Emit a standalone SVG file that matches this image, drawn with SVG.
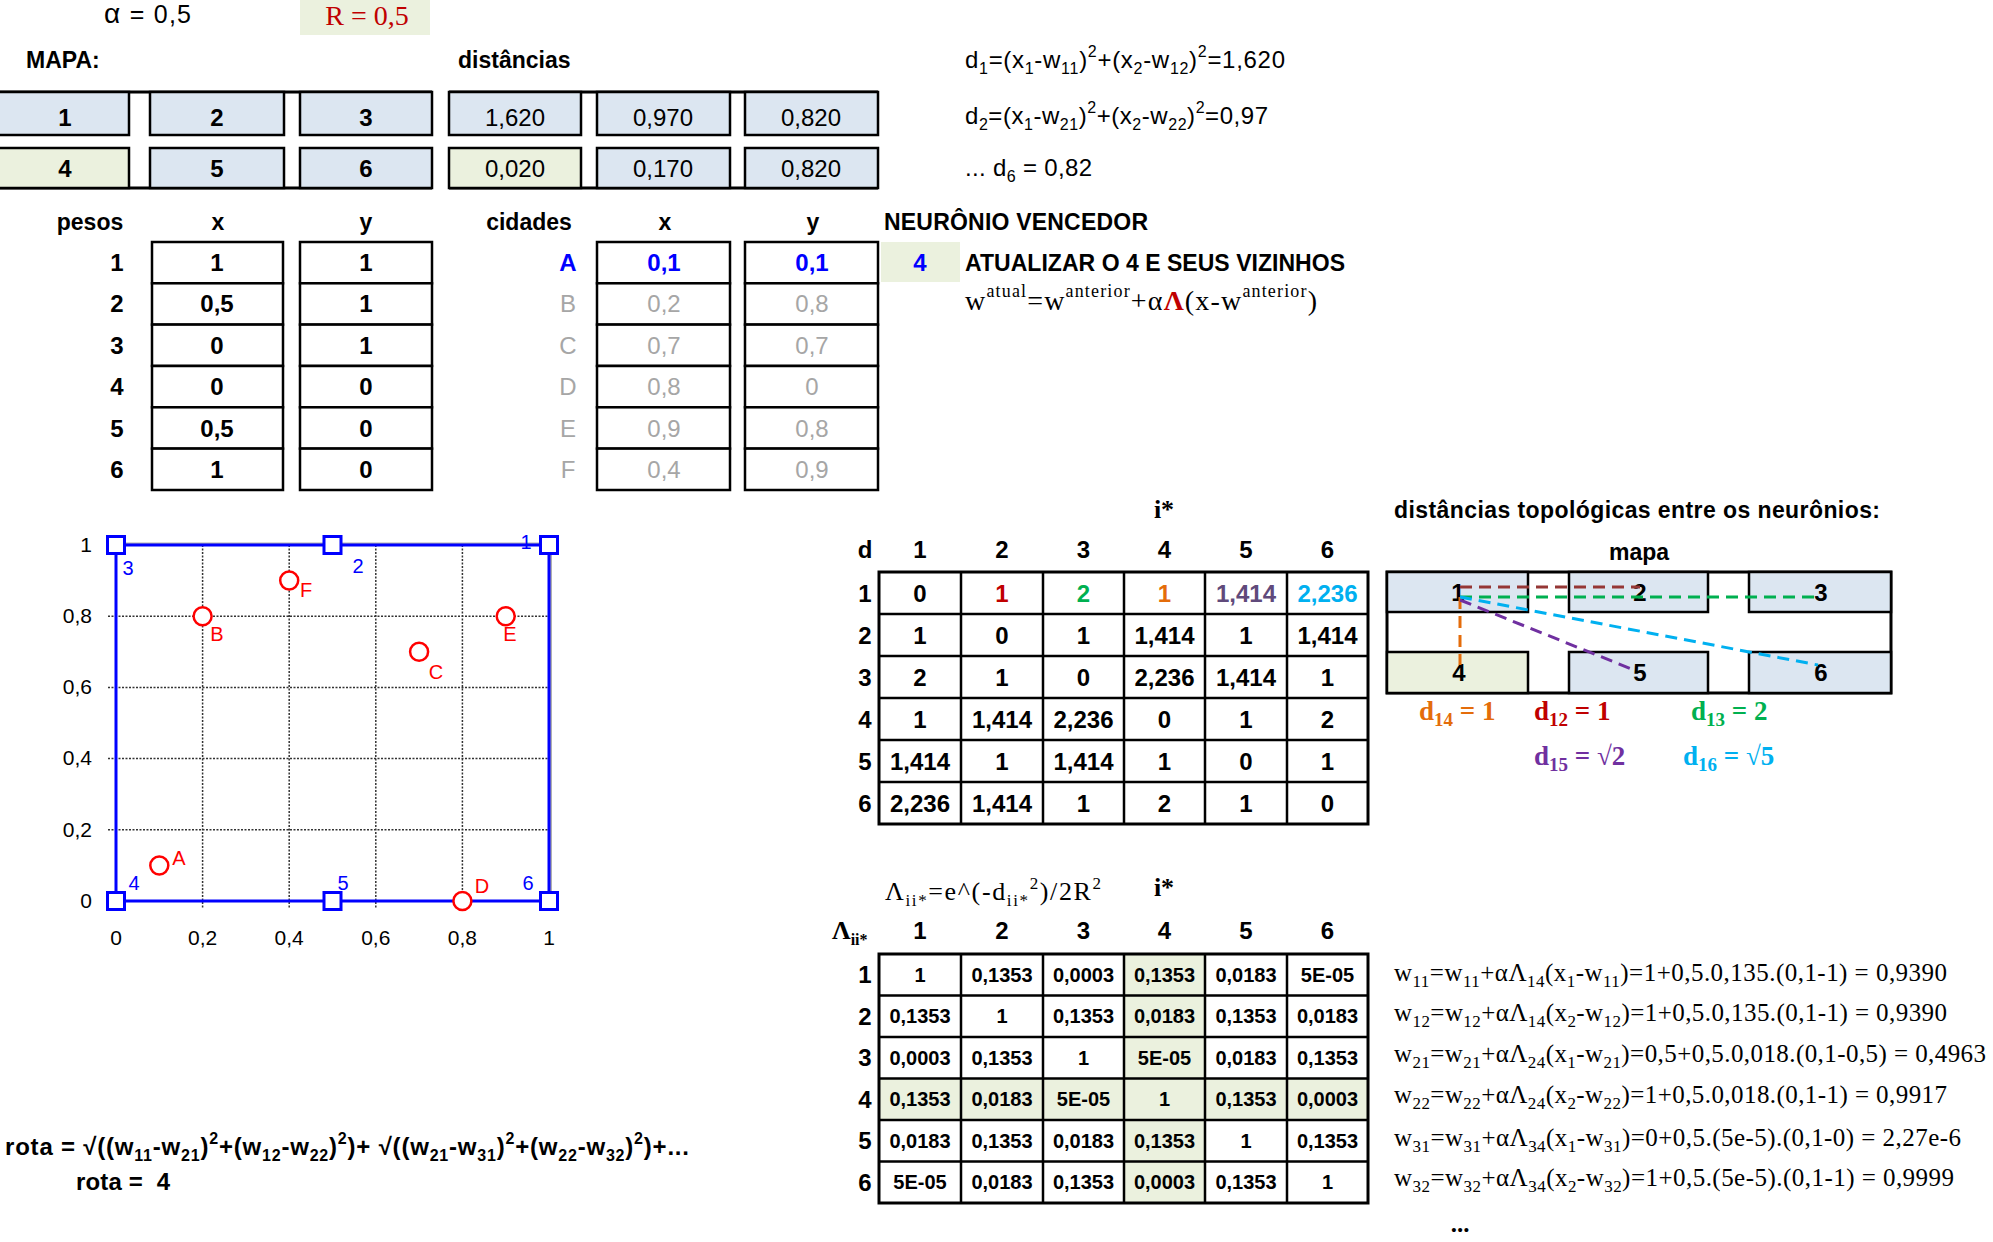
<svg xmlns="http://www.w3.org/2000/svg" width="1993" height="1242" viewBox="0 0 1993 1242">
<style>
text{font-family:"Liberation Sans",Arial,sans-serif;fill:#000}
.b{font-weight:bold}
.sf{font-family:"Liberation Serif","Times New Roman",serif}
.m{text-anchor:middle}
.e{text-anchor:end}
.f24{font-size:24px}
.f23{font-size:23px}
.f20{font-size:20px}
.f21{font-size:21px}
.sm{font-size:16px}
.cb{fill:#DCE6F1;stroke:#000;stroke-width:2.5}
.cg{fill:#EBF1DE;stroke:#000;stroke-width:2.5}
.cw{fill:#fff;stroke:#000;stroke-width:2.5}
.gray{fill:#A6A6A6}
.blue{fill:#0000FF}
.grid{stroke:#333;stroke-width:1.5;stroke-dasharray:2 1.5;fill:none}
.dash{fill:none;stroke-width:3;stroke-dasharray:12 7}
.tl{fill:none;stroke:#000;stroke-width:2.5}
</style>
<rect width="1993" height="1242" fill="#fff"/>

<g id="params">
<text x="104" y="23" style="font-size:25px" textLength="87" lengthAdjust="spacing"><tspan style="font-size:28px">α</tspan> = 0,5</text>
<rect x="300" y="0" width="130" height="35" fill="#EBF1DE"/>
<text x="367" y="25" class="sf m" style="font-size:28px;fill:#C00000">R = 0,5</text>
</g>

<g id="mapa" class="b f24">
<text x="26" y="68" class="b f23">MAPA:</text>
<line x1="0" y1="92" x2="432" y2="92" stroke="#000" stroke-width="3"/>
<line x1="0" y1="188" x2="432" y2="188" stroke="#000" stroke-width="3"/>
<rect x="-2" y="92" width="131" height="43" class="cb"/>
<rect x="150" y="92" width="134" height="43" class="cb"/>
<rect x="300" y="92" width="132" height="43" class="cb"/>
<rect x="-2" y="148" width="131" height="40" class="cg"/>
<rect x="150" y="148" width="134" height="40" class="cb"/>
<rect x="300" y="148" width="132" height="40" class="cb"/>
<text x="65" y="126" class="m b f24">1</text>
<text x="217" y="126" class="m b f24">2</text>
<text x="366" y="126" class="m b f24">3</text>
<text x="65" y="177" class="m b f24">4</text>
<text x="217" y="177" class="m b f24">5</text>
<text x="366" y="177" class="m b f24">6</text>
</g>

<g id="distancias">
<text x="458" y="68" class="b f23">distâncias</text>
<line x1="449" y1="92" x2="878" y2="92" stroke="#000" stroke-width="3"/>
<line x1="449" y1="188" x2="878" y2="188" stroke="#000" stroke-width="3"/>
<rect x="449" y="92" width="132" height="43" class="cb"/>
<rect x="597" y="92" width="133" height="43" class="cb"/>
<rect x="745" y="92" width="133" height="43" class="cb"/>
<rect x="449" y="148" width="132" height="40" class="cg"/>
<rect x="597" y="148" width="133" height="40" class="cb"/>
<rect x="745" y="148" width="133" height="40" class="cb"/>
<text x="515" y="126" class="m f24">1,620</text>
<text x="663" y="126" class="m f24">0,970</text>
<text x="811" y="126" class="m f24">0,820</text>
<text x="515" y="177" class="m f24">0,020</text>
<text x="663" y="177" class="m f24">0,170</text>
<text x="811" y="177" class="m f24">0,820</text>
</g>

<g id="formulas-d" class="f24">
<text x="965" y="68" style="font-size:24px" textLength="320" lengthAdjust="spacing">d<tspan class="sm" dy="6">1</tspan><tspan dy="-6">=(x</tspan><tspan class="sm" dy="6">1</tspan><tspan dy="-6">-w</tspan><tspan class="sm" dy="6">11</tspan><tspan dy="-6">)</tspan><tspan class="sm" dy="-11">2</tspan><tspan dy="11">+(x</tspan><tspan class="sm" dy="6">2</tspan><tspan dy="-6">-w</tspan><tspan class="sm" dy="6">12</tspan><tspan dy="-6">)</tspan><tspan class="sm" dy="-11">2</tspan><tspan dy="11">=1,620</tspan></text>
<text x="965" y="124" style="font-size:24px" textLength="303" lengthAdjust="spacing">d<tspan class="sm" dy="6">2</tspan><tspan dy="-6">=(x</tspan><tspan class="sm" dy="6">1</tspan><tspan dy="-6">-w</tspan><tspan class="sm" dy="6">21</tspan><tspan dy="-6">)</tspan><tspan class="sm" dy="-11">2</tspan><tspan dy="11">+(x</tspan><tspan class="sm" dy="6">2</tspan><tspan dy="-6">-w</tspan><tspan class="sm" dy="6">22</tspan><tspan dy="-6">)</tspan><tspan class="sm" dy="-11">2</tspan><tspan dy="11">=0,97</tspan></text>
<text x="965" y="176" style="font-size:24px" textLength="127" lengthAdjust="spacing">... d<tspan class="sm" dy="6">6</tspan><tspan dy="-6"> = 0,82</tspan></text>
</g>

<g id="pesos">
<text x="90" y="230" class="m b f23">pesos</text>
<text x="218" y="230" class="m b f23">x</text>
<text x="366" y="230" class="m b f23">y</text>
<rect x="152" y="242" width="131" height="41.3" class="cw"/>
<rect x="152" y="283.3" width="131" height="41.3" class="cw"/>
<rect x="152" y="324.6" width="131" height="41.3" class="cw"/>
<rect x="152" y="366" width="131" height="41.3" class="cw"/>
<rect x="152" y="407.3" width="131" height="41.3" class="cw"/>
<rect x="152" y="448.6" width="131" height="41.4" class="cw"/>
<rect x="300" y="242" width="132" height="41.3" class="cw"/>
<rect x="300" y="283.3" width="132" height="41.3" class="cw"/>
<rect x="300" y="324.6" width="132" height="41.3" class="cw"/>
<rect x="300" y="366" width="132" height="41.3" class="cw"/>
<rect x="300" y="407.3" width="132" height="41.3" class="cw"/>
<rect x="300" y="448.6" width="132" height="41.4" class="cw"/>
<g class="b f24">
<text x="117" y="271" class="m b f24">1</text><text x="217" y="271" class="m b f24">1</text><text x="366" y="271" class="m b f24">1</text>
<text x="117" y="312" class="m b f24">2</text><text x="217" y="312" class="m b f24">0,5</text><text x="366" y="312" class="m b f24">1</text>
<text x="117" y="354" class="m b f24">3</text><text x="217" y="354" class="m b f24">0</text><text x="366" y="354" class="m b f24">1</text>
<text x="117" y="395" class="m b f24">4</text><text x="217" y="395" class="m b f24">0</text><text x="366" y="395" class="m b f24">0</text>
<text x="117" y="437" class="m b f24">5</text><text x="217" y="437" class="m b f24">0,5</text><text x="366" y="437" class="m b f24">0</text>
<text x="117" y="478" class="m b f24">6</text><text x="217" y="478" class="m b f24">1</text><text x="366" y="478" class="m b f24">0</text>
</g>
</g>

<g id="cidades">
<text x="529" y="230" class="m b f23">cidades</text>
<text x="665" y="230" class="m b f23">x</text>
<text x="813" y="230" class="m b f23">y</text>
<rect x="597" y="242" width="133" height="41.3" class="cw"/>
<rect x="597" y="283.3" width="133" height="41.3" class="cw"/>
<rect x="597" y="324.6" width="133" height="41.3" class="cw"/>
<rect x="597" y="366" width="133" height="41.3" class="cw"/>
<rect x="597" y="407.3" width="133" height="41.3" class="cw"/>
<rect x="597" y="448.6" width="133" height="41.4" class="cw"/>
<rect x="745" y="242" width="133" height="41.3" class="cw"/>
<rect x="745" y="283.3" width="133" height="41.3" class="cw"/>
<rect x="745" y="324.6" width="133" height="41.3" class="cw"/>
<rect x="745" y="366" width="133" height="41.3" class="cw"/>
<rect x="745" y="407.3" width="133" height="41.3" class="cw"/>
<rect x="745" y="448.6" width="133" height="41.4" class="cw"/>
<text x="568" y="271" class="m b f24 blue">A</text><text x="664" y="271" class="m b f24 blue">0,1</text><text x="812" y="271" class="m b f24 blue">0,1</text>
<text x="568" y="312" class="m f24 gray">B</text><text x="664" y="312" class="m f24 gray">0,2</text><text x="812" y="312" class="m f24 gray">0,8</text>
<text x="568" y="354" class="m f24 gray">C</text><text x="664" y="354" class="m f24 gray">0,7</text><text x="812" y="354" class="m f24 gray">0,7</text>
<text x="568" y="395" class="m f24 gray">D</text><text x="664" y="395" class="m f24 gray">0,8</text><text x="812" y="395" class="m f24 gray">0</text>
<text x="568" y="437" class="m f24 gray">E</text><text x="664" y="437" class="m f24 gray">0,9</text><text x="812" y="437" class="m f24 gray">0,8</text>
<text x="568" y="478" class="m f24 gray">F</text><text x="664" y="478" class="m f24 gray">0,4</text><text x="812" y="478" class="m f24 gray">0,9</text>
</g>

<g id="vencedor">
<text x="884" y="230" class="b f23" textLength="264" lengthAdjust="spacing">NEURÔNIO VENCEDOR</text>
<rect x="881" y="242" width="79" height="40" fill="#EBF1DE"/>
<text x="920" y="271" class="m b f24 blue">4</text>
<text x="965" y="271" class="b f23" textLength="380" lengthAdjust="spacing">ATUALIZAR O 4 E SEUS VIZINHOS</text>
<text x="965" y="310" class="sf" style="font-size:28px" textLength="352" lengthAdjust="spacing">w<tspan style="font-size:18px" dy="-13">atual</tspan><tspan dy="13">=w</tspan><tspan style="font-size:18px" dy="-13">anterior</tspan><tspan dy="13">+α</tspan><tspan style="fill:#C00000;font-weight:bold">Λ</tspan><tspan>(x-w</tspan><tspan style="font-size:18px" dy="-13">anterior</tspan><tspan dy="13">)</tspan></text>
</g>

<g id="chart">
<path d="M116 543.5H551V901" fill="none" stroke="#b0b0b0" stroke-width="2"/>
<path class="grid" d="M202.6 545V908M289.2 545V908M375.8 545V908M462.4 545V908M116 901V908M549 901V908M108 829.8H549M108 758.6H549M108 687.4H549M108 616.2H549M108 545H116M108 901H116"/>
<rect x="116" y="545" width="433" height="356" fill="none" stroke="#0000FF" stroke-width="3"/>
<g fill="#fff" stroke="#0000FF" stroke-width="3">
<rect x="540.5" y="536.5" width="17" height="17"/>
<rect x="324" y="536.5" width="17" height="17"/>
<rect x="107.5" y="536.5" width="17" height="17"/>
<rect x="107.5" y="892.5" width="17" height="17"/>
<rect x="324" y="892.5" width="17" height="17"/>
<rect x="540.5" y="892.5" width="17" height="17"/>
</g>
<g fill="#fff" stroke="#FF0000" stroke-width="2.5">
<circle cx="159.3" cy="865.4" r="9"/>
<circle cx="202.6" cy="616.2" r="9"/>
<circle cx="419.1" cy="651.8" r="9"/>
<circle cx="462.4" cy="901" r="9"/>
<circle cx="505.7" cy="616.2" r="9"/>
<circle cx="289.2" cy="580.6" r="9"/>
</g>
<g class="f20" style="fill:#FF0000">
<text x="179" y="865" class="m f20" style="fill:#FF0000">A</text>
<text x="217" y="641" class="m f20" style="fill:#FF0000">B</text>
<text x="436" y="679" class="m f20" style="fill:#FF0000">C</text>
<text x="482" y="893" class="m f20" style="fill:#FF0000">D</text>
<text x="510" y="641" class="m f20" style="fill:#FF0000">E</text>
<text x="306" y="597" class="m f20" style="fill:#FF0000">F</text>
</g>
<text x="526" y="549" class="m f20 blue">1</text>
<text x="358" y="573" class="m f20 blue">2</text>
<text x="128" y="575" class="m f20 blue">3</text>
<text x="134" y="890" class="m f20 blue">4</text>
<text x="343" y="890" class="m f20 blue">5</text>
<text x="528" y="890" class="m f20 blue">6</text>
<g class="f21">
<text x="92" y="552" class="e f21">1</text>
<text x="92" y="623" class="e f21">0,8</text>
<text x="92" y="694" class="e f21">0,6</text>
<text x="92" y="765" class="e f21">0,4</text>
<text x="92" y="837" class="e f21">0,2</text>
<text x="92" y="908" class="e f21">0</text>
<text x="116" y="945" class="m f21">0</text>
<text x="202.6" y="945" class="m f21">0,2</text>
<text x="289.2" y="945" class="m f21">0,4</text>
<text x="375.8" y="945" class="m f21">0,6</text>
<text x="462.4" y="945" class="m f21">0,8</text>
<text x="549" y="945" class="m f21">1</text>
</g>
</g>

<g id="tabela-d">
<text x="1164" y="518" class="m sf b" style="font-size:26px">i*</text>
<text x="865" y="558" class="m b f24">d</text>
<text x="920" y="558" class="m b f24">1</text>
<text x="1002" y="558" class="m b f24">2</text>
<text x="1083.5" y="558" class="m b f24">3</text>
<text x="1164.5" y="558" class="m b f24">4</text>
<text x="1246" y="558" class="m b f24">5</text>
<text x="1327.5" y="558" class="m b f24">6</text>
<rect x="879" y="572" width="489" height="252" fill="#fff" stroke="#000" stroke-width="3"/>
<path class="tl" d="M961 572V824M1043 572V824M1124 572V824M1205 572V824M1287 572V824M879 614H1368M879 656H1368M879 698H1368M879 740H1368M879 782H1368"/>
<g class="b f24">
<text x="865" y="601.5" class="m b f24">1</text>
<text x="865" y="643.5" class="m b f24">2</text>
<text x="865" y="685.5" class="m b f24">3</text>
<text x="865" y="727.5" class="m b f24">4</text>
<text x="865" y="769.5" class="m b f24">5</text>
<text x="865" y="811.5" class="m b f24">6</text>

<text x="920" y="601.5" class="m b f24">0</text>
<text x="1002" y="601.5" class="m b f24" style="fill:#C00000">1</text>
<text x="1083.5" y="601.5" class="m b f24" style="fill:#00B050">2</text>
<text x="1164.5" y="601.5" class="m b f24" style="fill:#E46C0A">1</text>
<text x="1246" y="601.5" class="m b f24" style="fill:#604A7B">1,414</text>
<text x="1327.5" y="601.5" class="m b f24" style="fill:#00B0F0">2,236</text>

<text x="920" y="643.5" class="m b f24">1</text>
<text x="1002" y="643.5" class="m b f24">0</text>
<text x="1083.5" y="643.5" class="m b f24">1</text>
<text x="1164.5" y="643.5" class="m b f24">1,414</text>
<text x="1246" y="643.5" class="m b f24">1</text>
<text x="1327.5" y="643.5" class="m b f24">1,414</text>

<text x="920" y="685.5" class="m b f24">2</text>
<text x="1002" y="685.5" class="m b f24">1</text>
<text x="1083.5" y="685.5" class="m b f24">0</text>
<text x="1164.5" y="685.5" class="m b f24">2,236</text>
<text x="1246" y="685.5" class="m b f24">1,414</text>
<text x="1327.5" y="685.5" class="m b f24">1</text>

<text x="920" y="727.5" class="m b f24">1</text>
<text x="1002" y="727.5" class="m b f24">1,414</text>
<text x="1083.5" y="727.5" class="m b f24">2,236</text>
<text x="1164.5" y="727.5" class="m b f24">0</text>
<text x="1246" y="727.5" class="m b f24">1</text>
<text x="1327.5" y="727.5" class="m b f24">2</text>

<text x="920" y="769.5" class="m b f24">1,414</text>
<text x="1002" y="769.5" class="m b f24">1</text>
<text x="1083.5" y="769.5" class="m b f24">1,414</text>
<text x="1164.5" y="769.5" class="m b f24">1</text>
<text x="1246" y="769.5" class="m b f24">0</text>
<text x="1327.5" y="769.5" class="m b f24">1</text>

<text x="920" y="811.5" class="m b f24">2,236</text>
<text x="1002" y="811.5" class="m b f24">1,414</text>
<text x="1083.5" y="811.5" class="m b f24">1</text>
<text x="1164.5" y="811.5" class="m b f24">2</text>
<text x="1246" y="811.5" class="m b f24">1</text>
<text x="1327.5" y="811.5" class="m b f24">0</text>
</g>
</g>

<g id="mapa-topologico">
<text x="1394" y="518" class="b f23" textLength="486" lengthAdjust="spacing">distâncias topológicas entre os neurônios:</text>
<text x="1639" y="560" class="m b f23">mapa</text>
<rect x="1387" y="572" width="504" height="121" fill="#fff" stroke="#000" stroke-width="3"/>
<rect x="1387" y="572" width="141" height="40" class="cb"/>
<rect x="1569" y="572" width="139" height="40" class="cb"/>
<rect x="1749" y="572" width="142" height="40" class="cb"/>
<rect x="1387" y="652" width="141" height="41" class="cg"/>
<rect x="1569" y="652" width="139" height="41" class="cb"/>
<rect x="1749" y="652" width="142" height="41" class="cb"/>
<text x="1458" y="601" class="m b f24">1</text>
<text x="1640" y="601" class="m b f24">2</text>
<text x="1821" y="601" class="m b f24">3</text>
<text x="1459" y="681" class="m b f24">4</text>
<text x="1640" y="681" class="m b f24">5</text>
<text x="1821" y="681" class="m b f24">6</text>
</g>

<g id="connectors">
<path class="dash" stroke="#953735" d="M1460 587H1640"/>
<path class="dash" stroke="#00B050" d="M1460 597H1820"/>
<path class="dash" stroke="#E46C0A" d="M1460 597V665"/>
<path class="dash" stroke="#7030A0" d="M1460 600L1634 670"/>
<path class="dash" stroke="#00B0F0" d="M1460 597L1818 665"/>
</g>

<g id="rotulos-d" class="sf b" style="font-size:27px">
<text x="1419" y="720" class="sf b" style="font-size:27px;fill:#E46C0A">d<tspan style="font-size:19px" dy="6">14</tspan><tspan dy="-6"> = 1</tspan></text>
<text x="1534" y="720" class="sf b" style="font-size:27px;fill:#C00000">d<tspan style="font-size:19px" dy="6">12</tspan><tspan dy="-6"> = 1</tspan></text>
<text x="1691" y="720" class="sf b" style="font-size:27px;fill:#00B050">d<tspan style="font-size:19px" dy="6">13</tspan><tspan dy="-6"> = 2</tspan></text>
<text x="1534" y="765" class="sf b" style="font-size:27px;fill:#7030A0">d<tspan style="font-size:19px" dy="6">15</tspan><tspan dy="-6"> = √2</tspan></text>
<text x="1683" y="765" class="sf b" style="font-size:27px;fill:#00B0F0">d<tspan style="font-size:19px" dy="6">16</tspan><tspan dy="-6"> = √5</tspan></text>
</g>

<g id="tabela-lambda">
<text x="885" y="900" class="sf" style="font-size:26px" textLength="216" lengthAdjust="spacing">Λ<tspan style="font-size:17px" dy="6">ii*</tspan><tspan dy="-6">=e^(-d</tspan><tspan style="font-size:17px" dy="6">ii*</tspan><tspan style="font-size:17px" dy="-17">2</tspan><tspan dy="11">)/2R</tspan><tspan style="font-size:17px" dy="-11">2</tspan></text>
<text x="1164" y="896" class="m sf b" style="font-size:26px">i*</text>
<text x="832" y="939" class="sf b" style="font-size:26px">Λ<tspan style="font-size:16px" dy="6">ii*</tspan></text>
<text x="920" y="939" class="m b f24">1</text>
<text x="1002" y="939" class="m b f24">2</text>
<text x="1083.5" y="939" class="m b f24">3</text>
<text x="1164.5" y="939" class="m b f24">4</text>
<text x="1246" y="939" class="m b f24">5</text>
<text x="1327.5" y="939" class="m b f24">6</text>
<rect x="879" y="954" width="489" height="249" fill="#fff"/>
<rect x="1124" y="954" width="81" height="249" fill="#EBF1DE"/>
<rect x="879" y="1078.5" width="489" height="41.5" fill="#EBF1DE"/>
<rect x="879" y="954" width="489" height="249" fill="none" stroke="#000" stroke-width="3"/>
<path class="tl" d="M961 954V1203M1043 954V1203M1124 954V1203M1205 954V1203M1287 954V1203M879 995.5H1368M879 1037H1368M879 1078.5H1368M879 1120H1368M879 1161.5H1368"/>
<text x="865" y="983" class="m b f24">1</text>
<text x="865" y="1025" class="m b f24">2</text>
<text x="865" y="1066" class="m b f24">3</text>
<text x="865" y="1108" class="m b f24">4</text>
<text x="865" y="1149" class="m b f24">5</text>
<text x="865" y="1191" class="m b f24">6</text>
<g class="b f20">
<text x="920" y="982" class="m b f20">1</text>
<text x="1002" y="982" class="m b f20">0,1353</text>
<text x="1083.5" y="982" class="m b f20">0,0003</text>
<text x="1164.5" y="982" class="m b f20">0,1353</text>
<text x="1246" y="982" class="m b f20">0,0183</text>
<text x="1327.5" y="982" class="m b f20">5E-05</text>

<text x="920" y="1023" class="m b f20">0,1353</text>
<text x="1002" y="1023" class="m b f20">1</text>
<text x="1083.5" y="1023" class="m b f20">0,1353</text>
<text x="1164.5" y="1023" class="m b f20">0,0183</text>
<text x="1246" y="1023" class="m b f20">0,1353</text>
<text x="1327.5" y="1023" class="m b f20">0,0183</text>

<text x="920" y="1065" class="m b f20">0,0003</text>
<text x="1002" y="1065" class="m b f20">0,1353</text>
<text x="1083.5" y="1065" class="m b f20">1</text>
<text x="1164.5" y="1065" class="m b f20">5E-05</text>
<text x="1246" y="1065" class="m b f20">0,0183</text>
<text x="1327.5" y="1065" class="m b f20">0,1353</text>

<text x="920" y="1106" class="m b f20">0,1353</text>
<text x="1002" y="1106" class="m b f20">0,0183</text>
<text x="1083.5" y="1106" class="m b f20">5E-05</text>
<text x="1164.5" y="1106" class="m b f20">1</text>
<text x="1246" y="1106" class="m b f20">0,1353</text>
<text x="1327.5" y="1106" class="m b f20">0,0003</text>

<text x="920" y="1148" class="m b f20">0,0183</text>
<text x="1002" y="1148" class="m b f20">0,1353</text>
<text x="1083.5" y="1148" class="m b f20">0,0183</text>
<text x="1164.5" y="1148" class="m b f20">0,1353</text>
<text x="1246" y="1148" class="m b f20">1</text>
<text x="1327.5" y="1148" class="m b f20">0,1353</text>

<text x="920" y="1189" class="m b f20">5E-05</text>
<text x="1002" y="1189" class="m b f20">0,0183</text>
<text x="1083.5" y="1189" class="m b f20">0,1353</text>
<text x="1164.5" y="1189" class="m b f20">0,0003</text>
<text x="1246" y="1189" class="m b f20">0,1353</text>
<text x="1327.5" y="1189" class="m b f20">1</text>
</g>
</g>

<g id="atualizacoes" class="sf" style="font-size:25px">
<text x="1394" y="981" class="sf" style="font-size:25px" textLength="553" lengthAdjust="spacing">w<tspan style="font-size:17px" dy="6">11</tspan><tspan dy="-6">=w</tspan><tspan style="font-size:17px" dy="6">11</tspan><tspan dy="-6">+αΛ</tspan><tspan style="font-size:17px" dy="6">14</tspan><tspan dy="-6">(x</tspan><tspan style="font-size:17px" dy="6">1</tspan><tspan dy="-6">-w</tspan><tspan style="font-size:17px" dy="6">11</tspan><tspan dy="-6">)=1+0,5.0,135.(0,1-1) = 0,9390</tspan></text>
<text x="1394" y="1021" class="sf" style="font-size:25px" textLength="553" lengthAdjust="spacing">w<tspan style="font-size:17px" dy="6">12</tspan><tspan dy="-6">=w</tspan><tspan style="font-size:17px" dy="6">12</tspan><tspan dy="-6">+αΛ</tspan><tspan style="font-size:17px" dy="6">14</tspan><tspan dy="-6">(x</tspan><tspan style="font-size:17px" dy="6">2</tspan><tspan dy="-6">-w</tspan><tspan style="font-size:17px" dy="6">12</tspan><tspan dy="-6">)=1+0,5.0,135.(0,1-1) = 0,9390</tspan></text>
<text x="1394" y="1062" class="sf" style="font-size:25px" textLength="592" lengthAdjust="spacing">w<tspan style="font-size:17px" dy="6">21</tspan><tspan dy="-6">=w</tspan><tspan style="font-size:17px" dy="6">21</tspan><tspan dy="-6">+αΛ</tspan><tspan style="font-size:17px" dy="6">24</tspan><tspan dy="-6">(x</tspan><tspan style="font-size:17px" dy="6">1</tspan><tspan dy="-6">-w</tspan><tspan style="font-size:17px" dy="6">21</tspan><tspan dy="-6">)=0,5+0,5.0,018.(0,1-0,5) = 0,4963</tspan></text>
<text x="1394" y="1103" class="sf" style="font-size:25px" textLength="553" lengthAdjust="spacing">w<tspan style="font-size:17px" dy="6">22</tspan><tspan dy="-6">=w</tspan><tspan style="font-size:17px" dy="6">22</tspan><tspan dy="-6">+αΛ</tspan><tspan style="font-size:17px" dy="6">24</tspan><tspan dy="-6">(x</tspan><tspan style="font-size:17px" dy="6">2</tspan><tspan dy="-6">-w</tspan><tspan style="font-size:17px" dy="6">22</tspan><tspan dy="-6">)=1+0,5.0,018.(0,1-1) = 0,9917</tspan></text>
<text x="1394" y="1146" class="sf" style="font-size:25px" textLength="567" lengthAdjust="spacing">w<tspan style="font-size:17px" dy="6">31</tspan><tspan dy="-6">=w</tspan><tspan style="font-size:17px" dy="6">31</tspan><tspan dy="-6">+αΛ</tspan><tspan style="font-size:17px" dy="6">34</tspan><tspan dy="-6">(x</tspan><tspan style="font-size:17px" dy="6">1</tspan><tspan dy="-6">-w</tspan><tspan style="font-size:17px" dy="6">31</tspan><tspan dy="-6">)=0+0,5.(5e-5).(0,1-0) = 2,27e-6</tspan></text>
<text x="1394" y="1186" class="sf" style="font-size:25px" textLength="560" lengthAdjust="spacing">w<tspan style="font-size:17px" dy="6">32</tspan><tspan dy="-6">=w</tspan><tspan style="font-size:17px" dy="6">32</tspan><tspan dy="-6">+αΛ</tspan><tspan style="font-size:17px" dy="6">34</tspan><tspan dy="-6">(x</tspan><tspan style="font-size:17px" dy="6">2</tspan><tspan dy="-6">-w</tspan><tspan style="font-size:17px" dy="6">32</tspan><tspan dy="-6">)=1+0,5.(5e-5).(0,1-1) = 0,9999</tspan></text>
<text x="1460" y="1232" class="m b sf" style="font-size:25px">...</text>
</g>

<g id="rota">
<text x="5" y="1155" class="b" style="font-size:24px" textLength="684" lengthAdjust="spacing">rota = √((w<tspan class="sm" dy="6">11</tspan><tspan dy="-6">-w</tspan><tspan class="sm" dy="6">21</tspan><tspan dy="-6">)</tspan><tspan class="sm" dy="-11">2</tspan><tspan dy="11">+(w</tspan><tspan class="sm" dy="6">12</tspan><tspan dy="-6">-w</tspan><tspan class="sm" dy="6">22</tspan><tspan dy="-6">)</tspan><tspan class="sm" dy="-11">2</tspan><tspan dy="11">)+ √((w</tspan><tspan class="sm" dy="6">21</tspan><tspan dy="-6">-w</tspan><tspan class="sm" dy="6">31</tspan><tspan dy="-6">)</tspan><tspan class="sm" dy="-11">2</tspan><tspan dy="11">+(w</tspan><tspan class="sm" dy="6">22</tspan><tspan dy="-6">-w</tspan><tspan class="sm" dy="6">32</tspan><tspan dy="-6">)</tspan><tspan class="sm" dy="-11">2</tspan><tspan dy="11">)+...</tspan></text>
<text x="76" y="1190" class="b" style="font-size:24px" textLength="94" lengthAdjust="spacing">rota =&#160; 4</text>
</g>
</svg>
